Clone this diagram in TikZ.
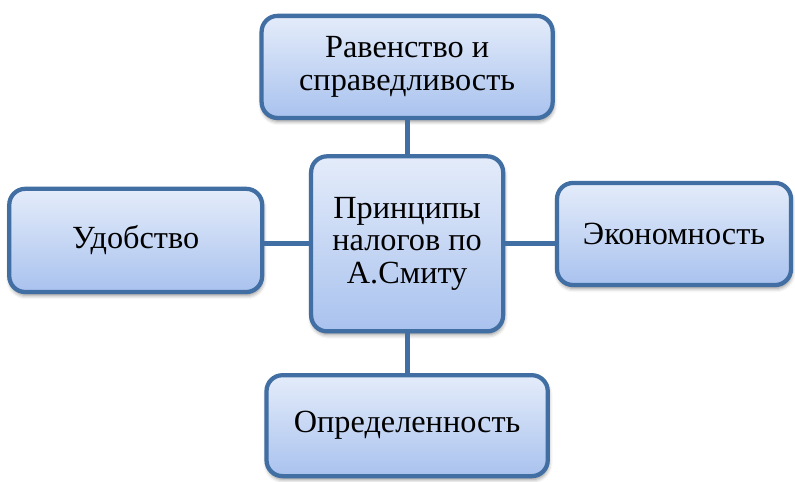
\documentclass[tikz,border=0pt]{standalone}
\usepackage{fontspec}
\setmainfont{Liberation Serif}
\newfontfamily\prinfont{Liberation Serif}
\usetikzlibrary{shadows.blur}

\definecolor{rimblue}{HTML}{416EA3}
\definecolor{filltop}{HTML}{E4ECFA}
\definecolor{fillbot}{HTML}{A9C2EE}

\tikzset{
	prinbox/.style={draw=rimblue, line width=3.2pt, rounded corners=12pt,
		top color=filltop, bottom color=fillbot, align=center,
		font=\prinfont\fontsize{24.3}{24.5}\selectfont,
		blur shadow={shadow xshift=0.6pt, shadow yshift=-2.5pt,
			shadow blur radius=3pt, shadow opacity=45}},
	link/.style={draw=rimblue, line width=3.6pt}
}

\begin{document}
\begin{tikzpicture}
				\useasboundingbox (0,0) rectangle (21.03, 12.75);

				% centre and the four principles around it
				\node[prinbox, minimum width=5.08cm, minimum height=4.63cm] (prn) at (10.77, 6.30) {Принципы\\налогов по\\А.Смиту};
				\node[prinbox, minimum width=7.70cm, minimum height=2.70cm] (rav) at (10.77, 10.98) {Равенство и\\справедливость};
				\node[prinbox, minimum width=6.69cm, minimum height=2.73cm] (udb) at (3.59, 6.39) {Удобство};
				\node[prinbox, minimum width=6.19cm, minimum height=2.70cm] (eko) at (17.83, 6.56) {Экономность};
				\node[prinbox, minimum width=7.44cm, minimum height=2.67cm] (opr) at (10.77, 1.49) {Определенность};

				% connectors
				\draw[link] (prn.north) -- (rav.south);
				\draw[link] (prn.south) -- (opr.north);
				\draw[link] (prn.west) -- (prn.west -| udb.east);
				\draw[link] (prn.east) -- (prn.east -| eko.west);
			\end{tikzpicture}
\end{document}
